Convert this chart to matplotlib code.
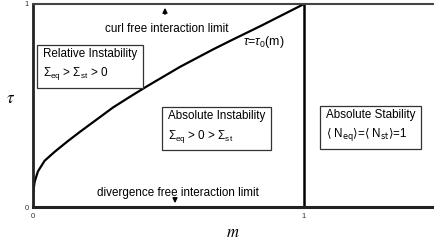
import matplotlib
matplotlib.use("Agg")
import matplotlib.pyplot as plt

# boundary curve tau = tau0(m)
m_curve = [0.0, 0.0005, 0.002, 0.0063, 0.018, 0.043, 0.080, 0.129, 0.173, 0.235,
           0.295, 0.360, 0.421, 0.542, 0.664, 0.727, 0.845, 1.0]
tau_curve = [0.0, 0.045, 0.085, 0.125, 0.175, 0.228, 0.272, 0.325, 0.370, 0.431,
             0.490, 0.545, 0.595, 0.690, 0.776, 0.818, 0.895, 1.0]
x_max = 1.476
x_ticks = [0, 1]
y_ticks = [0, 1]

plt.rcParams['font.family'] = ['Liberation Sans', 'DejaVu Sans']
plt.rcParams['mathtext.fontset'] = 'custom'
plt.rcParams['mathtext.rm'] = 'Liberation Sans'
plt.rcParams['mathtext.it'] = 'Liberation Sans:italic'

fig = plt.figure(figsize=(4.34, 2.43), dpi=100)
ax = fig.add_axes([33/434, 36/243, 400/434, 203/243])
ax.set_xlim(0, x_max)
ax.set_ylim(0, 1)
ax.spines['right'].set_visible(False)
ax.spines['left'].set_linewidth(2.0)
ax.spines['bottom'].set_linewidth(2.2)
ax.spines['top'].set_linewidth(1.5)
ax.spines['top'].set_color('#444444')
for s in ['left', 'bottom']:
    ax.spines[s].set_color('#222222')

ax.set_xticks(x_ticks)
ax.set_yticks(y_ticks)
ax.set_xticklabels([str(v) for v in x_ticks])
ax.set_yticklabels([str(v) for v in y_ticks])
ax.tick_params(length=0, labelsize=5.5, pad=4, labelcolor='#333333')
ax.tick_params(axis='y', pad=3)

ax.plot(m_curve, tau_curve, color='black', lw=1.6, solid_capstyle='butt')
ax.axvline(1.0, color='black', lw=1.8)

ax.set_xlabel(r'$m$', fontsize=12, labelpad=4, math_fontfamily='stix')
ax.set_ylabel(r'$\tau$', fontsize=12, rotation=0, labelpad=10, math_fontfamily='stix')

fs = 8.4
ax.text(0.493, 0.879, 'curl free interaction limit', fontsize=fs, ha='center', va='center')
ax.annotate('', xy=(0.487, 0.995), xytext=(0.487, 0.935),
            arrowprops=dict(arrowstyle='-|>', color='black', lw=1.0, mutation_scale=7))
ax.text(0.533, 0.071, 'divergence free interaction limit', fontsize=fs, ha='center', va='center')
ax.annotate('', xy=(0.524, 0.005), xytext=(0.524, 0.05),
            arrowprops=dict(arrowstyle='-|>', color='black', lw=1.0, mutation_scale=7))

box = dict(boxstyle='square,pad=0.5', fc='white', ec='#333333', lw=0.9)
ax.text(0.037, 0.70, 'Relative Instability\n' + r'$\Sigma_{\mathrm{eq}}$ > $\Sigma_{\mathrm{st}}$ > 0',
        fontsize=fs, ha='left', va='center', bbox=box, linespacing=1.5)
ax.text(0.498, 0.392, 'Absolute Instability\n' + r'$\Sigma_{\mathrm{eq}}$ > 0 > $\Sigma_{\mathrm{st}}$',
        fontsize=fs, ha='left', va='center', bbox=box, linespacing=1.5)
ax.text(1.081, 0.40, 'Absolute Stability\n' + r'$\langle$ N$_{\mathrm{eq}}$$\rangle$=$\langle$ N$_{\mathrm{st}}$$\rangle$=1',
        fontsize=fs, ha='left', va='center', bbox=box, linespacing=1.5,
        math_fontfamily='dejavusans')
ax.text(0.775, 0.815, r'$\tau$=$\tau_0$(m)', fontsize=fs + 0.5, ha='left', va='center')

fig.savefig('out.png', dpi=100)
